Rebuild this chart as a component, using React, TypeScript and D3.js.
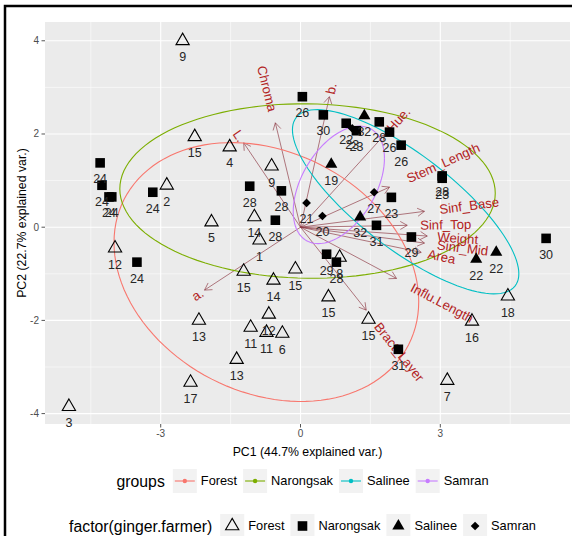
import React, { useEffect, useRef } from "react";
import * as d3 from "d3";

const width = 572;
const height = 536;
const margin = { top: 22, right: 2, bottom: 112, left: 45 };

const groups = ["Forest", "Narongsak", "Salinee", "Samran"];
const groupColors = ["#F8766D", "#7CAE00", "#00BFC4", "#C77CFF"];

// [label, PC1, PC2]
const forest = [
  ["9", -2.53, 4.0], ["15", -2.27, 1.94], ["4", -1.52, 1.72], ["9", -0.62, 1.31],
  ["2", -2.87, 0.9], ["14", -0.99, 0.22], ["5", -1.91, 0.11], ["1", -0.88, -0.28],
  ["12", -3.98, -0.45], ["15", -1.22, -0.95], ["14", -0.58, -1.14], ["15", -0.11, -0.9],
  ["15", 0.6, -1.5], ["13", -2.18, -2.0], ["12", -0.68, -1.87], ["11", -1.07, -2.15],
  ["11", -0.73, -2.26], ["6", -0.39, -2.28], ["13", -1.37, -2.84], ["17", -2.36, -3.33],
  ["3", -4.97, -3.85], ["15", 1.46, -1.98], ["16", 3.68, -2.02], ["18", 4.45, -1.48],
  ["7", 3.15, -3.29], ["8", 0.84, -0.65],
];
const narongsak = [
  ["24", -4.3, 1.38], ["24", -4.26, 0.9], ["24", -4.11, 0.65], ["24", -4.05, 0.65],
  ["24", -3.17, 0.75], ["24", -3.51, -0.75], ["28", -1.09, 0.88], ["28", -0.41, 0.78],
  ["28", -0.54, 0.15], ["26", 0.04, 2.8], ["30", 0.49, 2.41], ["22", 0.98, 2.23],
  ["23", 1.2, 2.07], ["28", 1.69, 2.26], ["26", 1.91, 2.04], ["26", 2.16, 1.76],
  ["23", 3.04, 1.05], ["28", 3.04, 1.1], ["23", 1.95, 0.64], ["31", 1.63, 0.04],
  ["29", 2.38, -0.21], ["30", 5.27, -0.24], ["29", 0.56, -0.58], ["28", 0.77, -0.75],
  ["31", 2.1, -2.62],
];
const salinee = [
  ["32", 1.37, 2.39], ["19", 0.66, 1.35], ["32", 1.28, 0.22], ["22", 3.77, -0.69],
  ["22", 4.2, -0.54],
];
const samran = [
  ["21", 0.13, 0.52], ["20", 0.47, 0.24], ["27", 1.58, 0.75], ["23", 1.11, 2.12],
];

// variable loadings (arrow tips)
const varNames = ["Chroma", "L.", "a.", "b.", "Hue.", "Stem_Length", "Sinf_Base",
  "Sinf_Top", "Weight", "Sinf_Mid", "Area", "Influ.Length", "Bract_Layer"];
const varPC1 = [-0.54, -1.22, -2.06, 0.62, 1.8, 1.91, 2.66, 2.29, 2.72, 2.66, 2.59, 2.06, 1.41];
const varPC2 = [2.24, 1.81, -1.35, 2.8, 1.98, 0.86, 0.34, 0.04, -0.19, -0.34, -0.54, -1.1, -1.78];

const xTicks = [-3, 0, 3];
const xMinor = [-4.5, -1.5, 1.5, 4.5];
const yTicks = [-4, -2, 0, 2, 4];
const yMinor = [-3, -1, 1, 3];

const font = "'Liberation Sans', Arial, Helvetica, sans-serif";

// normal data ellipse like ggbiplot (ellipse.prob = 0.68)
function ellipse(pts) {
  const n = pts.length;
  const mx = d3.mean(pts, p => p[1]);
  const my = d3.mean(pts, p => p[2]);
  let sxx = 0, syy = 0, sxy = 0;
  pts.forEach(p => {
    const dx = p[1] - mx, dy = p[2] - my;
    sxx += dx * dx; syy += dy * dy; sxy += dx * dy;
  });
  sxx /= n - 1; syy /= n - 1; sxy /= n - 1;
  const a = Math.sqrt(sxx), b = sxy / a, c = Math.sqrt(syy - b * b);
  const ed = Math.sqrt(-2 * Math.log(1 - 0.68));
  return d3.range(0, 121).map(i => {
    const t = (2 * Math.PI * i) / 120;
    return [mx + ed * a * Math.cos(t), my + ed * (b * Math.cos(t) + c * Math.sin(t))];
  });
}

export default function App() {
  const ref = useRef(null);

  useEffect(() => {
    const svg = d3.select(ref.current);
    svg.selectAll("*").remove();

    const x = d3.scaleLinear().domain([-5.483, 5.783])
      .range([margin.left, width - margin.right]);
    const y = d3.scaleLinear().domain([-4.223, 4.403])
      .range([height - margin.bottom, margin.top]);
    const [pl, pr] = x.range();
    const [pb, pt] = y.range();

    // panel
    svg.append("rect").attr("x", pl).attr("y", pt).attr("width", pr - pl)
      .attr("height", pb - pt).attr("fill", "#EBEBEB");
    const grid = svg.append("g").attr("stroke", "#fff");
    grid.selectAll(".xm").data(xMinor).join("line")
      .attr("x1", d => x(d)).attr("x2", d => x(d)).attr("y1", pt).attr("y2", pb)
      .attr("stroke-width", 0.55);
    grid.selectAll(".ym").data(yMinor).join("line")
      .attr("y1", d => y(d)).attr("y2", d => y(d)).attr("x1", pl).attr("x2", pr)
      .attr("stroke-width", 0.55);
    grid.selectAll(".xM").data(xTicks).join("line")
      .attr("x1", d => x(d)).attr("x2", d => x(d)).attr("y1", pt).attr("y2", pb)
      .attr("stroke-width", 1.1);
    grid.selectAll(".yM").data(yTicks).join("line")
      .attr("y1", d => y(d)).attr("y2", d => y(d)).attr("x1", pl).attr("x2", pr)
      .attr("stroke-width", 1.1);

    // arrows
    const vars = varNames.map((name, i) => ({ name, pc1: varPC1[i], pc2: varPC2[i] }));
    svg.append("g").attr("stroke", "#8E3A44").attr("stroke-width", 0.9)
      .attr("stroke-opacity", 0.75).attr("fill", "none")
      .selectAll("path").data(vars).join("path")
      .attr("d", v => {
        const x1 = x(0), y1 = y(0), x2 = x(v.pc1), y2 = y(v.pc2);
        const ang = Math.atan2(y2 - y1, x2 - x1);
        const L = 8, h = Math.PI / 6;
        return `M${x1},${y1}L${x2},${y2}` +
          `M${x2 - L * Math.cos(ang - h)},${y2 - L * Math.sin(ang - h)}L${x2},${y2}` +
          `L${x2 - L * Math.cos(ang + h)},${y2 - L * Math.sin(ang + h)}`;
      });

    // ellipses
    const line = d3.line().x(d => x(d[0])).y(d => y(d[1]));
    [forest, narongsak, salinee, samran].forEach((pts, i) => {
      svg.append("path").attr("d", line(ellipse(pts))).attr("fill", "none")
        .attr("stroke", groupColors[i]).attr("stroke-width", 1.1);
    });

    // variable names
    vars.forEach(v => {
      const angle = (180 / Math.PI) * Math.atan(v.pc2 / v.pc1);
      const t = svg.append("text")
        .attr("transform", `translate(${x(v.pc1)},${y(v.pc2)}) rotate(${-angle})`)
        .attr("font-family", font).attr("font-size", 13.2).attr("fill", "#B22222")
        .attr("dy", "0.35em")
        .attr("text-anchor", v.pc1 > 0 ? "start" : "end")
        .text(v.name);
      const w = t.node().getComputedTextLength();
      t.attr("x", v.pc1 > 0 ? 0.25 * w : -0.25 * w);
    });

    // points
    const tri = d3.symbol(d3.symbolTriangle, 76)();
    const sq = d3.symbol(d3.symbolSquare, 92)();
    const tri2 = d3.symbol(d3.symbolTriangle, 64)();
    const dia = d3.symbol(d3.symbolSquare, 38)();
    const pg = svg.append("g");
    pg.selectAll(".f").data(forest).join("path")
      .attr("d", tri).attr("transform", d => `translate(${x(d[1])},${y(d[2])})`)
      .attr("fill", "none").attr("stroke", "#000").attr("stroke-width", 1.1);
    pg.selectAll(".s").data(samran).join("path")
      .attr("d", dia).attr("transform", d => `translate(${x(d[1])},${y(d[2])}) rotate(45)`)
      .attr("fill", "#000");
    pg.selectAll(".n").data(narongsak).join("path")
      .attr("d", sq).attr("transform", d => `translate(${x(d[1])},${y(d[2])})`)
      .attr("fill", "#000");
    pg.selectAll(".l").data(salinee).join("path")
      .attr("d", tri2).attr("transform", d => `translate(${x(d[1])},${y(d[2])})`)
      .attr("fill", "#000");

    // point labels
    svg.append("g").attr("font-family", font).attr("font-size", 12.5)
      .attr("fill", "#262626").attr("text-anchor", "middle")
      .selectAll("text").data([...forest, ...samran, ...narongsak, ...salinee]).join("text")
      .attr("x", d => x(d[1])).attr("y", d => y(d[2]) + 16).attr("dy", "0.35em")
      .text(d => d[0]);

    // axes
    const ax = svg.append("g").attr("font-family", font).attr("font-size", 10)
      .attr("fill", "#4D4D4D");
    ax.selectAll(".xt").data(xTicks).join("line")
      .attr("x1", d => x(d)).attr("x2", d => x(d)).attr("y1", pb).attr("y2", pb + 3.5)
      .attr("stroke", "#555");
    ax.selectAll(".xl").data(xTicks).join("text")
      .attr("x", d => x(d)).attr("y", pb + 13).attr("text-anchor", "middle")
      .text(d => d);
    ax.selectAll(".yt").data(yTicks).join("line")
      .attr("y1", d => y(d)).attr("y2", d => y(d)).attr("x1", pl - 3.5).attr("x2", pl)
      .attr("stroke", "#555");
    ax.selectAll(".yl").data(yTicks).join("text")
      .attr("x", pl - 6).attr("y", d => y(d)).attr("dy", "0.35em").attr("text-anchor", "end")
      .text(d => d);

    svg.append("text").attr("x", (pl + pr) / 2).attr("y", pb + 28).attr("dy", "0.35em")
      .attr("text-anchor", "middle").attr("font-family", font).attr("font-size", 12.3)
      .text("PC1 (44.7% explained var.)");
    svg.append("text").attr("transform", `translate(22,${(pt + pb) / 2}) rotate(-90)`)
      .attr("dy", "0.35em").attr("text-anchor", "middle").attr("font-family", font)
      .attr("font-size", 12.3).text("PC2 (22.7% explained var.)");

    // legends
    const legendRow = (yc, title, drawKey) => {
      const g = svg.append("g").attr("font-family", font);
      const t = g.append("text").attr("x", 0).attr("y", yc).attr("dy", "0.35em")
        .attr("font-size", 15.8).text(title);
      let cx = t.node().getComputedTextLength() + 8;
      groups.forEach((name, i) => {
        g.append("rect").attr("x", cx).attr("y", yc - 12).attr("width", 24)
          .attr("height", 24).attr("fill", "#F2F2F2");
        drawKey(g, cx + 12, yc, i);
        cx += 28;
        const lt = g.append("text").attr("x", cx).attr("y", yc).attr("dy", "0.35em")
          .attr("font-size", 12.8).text(name);
        cx += lt.node().getComputedTextLength() + 6;
      });
      cx -= 6;
      g.attr("transform", `translate(${302.5 - cx / 2},0)`);
    };
    legendRow(481, "groups", (g, cx, cy, i) => {
      g.append("line").attr("x1", cx - 10).attr("x2", cx + 10).attr("y1", cy).attr("y2", cy)
        .attr("stroke", groupColors[i]).attr("stroke-width", 1.1);
      g.append("circle").attr("cx", cx).attr("cy", cy).attr("r", 2.2).attr("fill", groupColors[i]);
    });
    const keyShapes = [tri, sq, tri2, dia];
    legendRow(526, "factor(ginger.farmer)", (g, cx, cy, i) => {
      g.append("path").attr("d", keyShapes[i])
        .attr("transform", `translate(${cx},${cy})${i === 3 ? " rotate(45)" : ""}`)
        .attr("fill", i === 0 ? "none" : "#000")
        .attr("stroke", i === 0 ? "#000" : "none").attr("stroke-width", 1.1);
    });

    // outer frame
    svg.append("path").attr("d", `M5,${height}V6H${width}`).attr("fill", "none")
      .attr("stroke", "#000").attr("stroke-width", 2.5);
  }, []);

  return (
    <svg ref={ref} width={width} height={height}
      style={{ position: "absolute", left: 0, top: 0, background: "#fff" }} />
  );
}
